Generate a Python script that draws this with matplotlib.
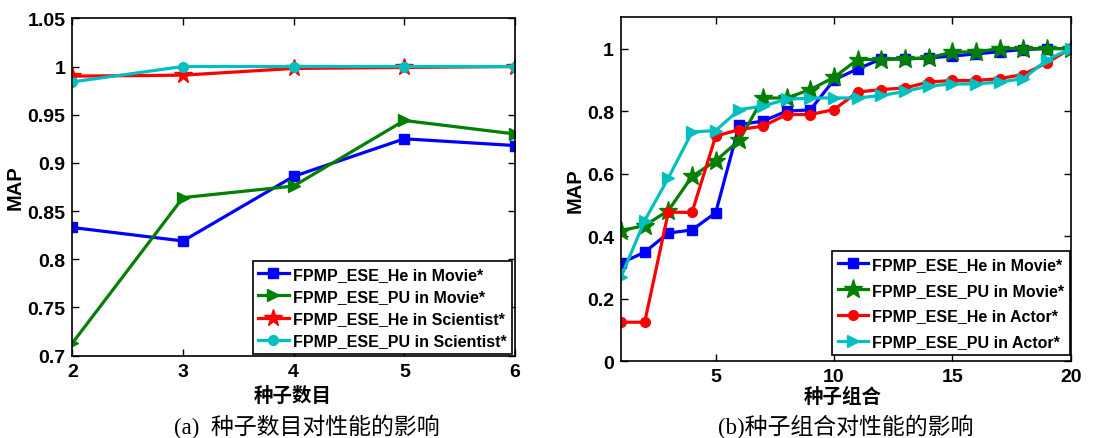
import matplotlib
matplotlib.use("Agg")
import matplotlib.pyplot as plt

plt.rcParams['font.family'] = ['Liberation Sans', 'Noto Sans CJK SC', 'DejaVu Sans']

# ---- data (a) ----
seeds_a = [2, 3, 4, 5, 6]
he_movie_a = [0.833, 0.819, 0.886, 0.925, 0.918]
pu_movie_a = [0.713, 0.864, 0.876, 0.944, 0.930]
he_sci_a = [0.990, 0.991, 0.998, 0.999, 1.000]
pu_sci_a = [0.984, 1.000, 1.000, 1.000, 1.000]
labels_a = ['FPMP_ESE_He in Movie*', 'FPMP_ESE_PU in Movie*',
            'FPMP_ESE_He in Scientist*', 'FPMP_ESE_PU in Scientist*']
yticks_a = [0.7, 0.75, 0.8, 0.85, 0.9, 0.95, 1.0, 1.05]
yticklabels_a = ['0.7', '0.75', '0.8', '0.85', '0.9', '0.95', '1', '1.05']

# ---- data (b) ----
combos_b = list(range(1, 21))
he_movie_b = [0.314, 0.349, 0.410, 0.420, 0.475, 0.757, 0.768, 0.800, 0.804, 0.900,
              0.935, 0.967, 0.967, 0.970, 0.976, 0.983, 0.990, 0.997, 1.000, 1.000]
pu_movie_b = [0.418, 0.434, 0.482, 0.591, 0.641, 0.707, 0.842, 0.842, 0.869, 0.908,
              0.965, 0.965, 0.967, 0.970, 0.989, 0.989, 1.000, 1.000, 1.000, 1.000]
he_actor_b = [0.125, 0.125, 0.477, 0.476, 0.720, 0.741, 0.752, 0.789, 0.789, 0.805,
              0.861, 0.869, 0.874, 0.893, 0.898, 0.898, 0.904, 0.917, 0.955, 1.000]
pu_actor_b = [0.269, 0.450, 0.586, 0.733, 0.738, 0.805, 0.816, 0.838, 0.842, 0.842,
              0.842, 0.850, 0.863, 0.880, 0.887, 0.887, 0.893, 0.904, 0.964, 1.000]
labels_b = ['FPMP_ESE_He in Movie*', 'FPMP_ESE_PU in Movie*',
            'FPMP_ESE_He in Actor*', 'FPMP_ESE_PU in Actor*']
yticks_b = [0, 0.2, 0.4, 0.6, 0.8, 1.0]
yticklabels_b = ['0', '0.2', '0.4', '0.6', '0.8', '1']
xticks_b = [5, 10, 15, 20]

BLUE = (0, 0, 1)
GREEN = (0, 0.5, 0)
RED = (1, 0, 0)
CYAN = (0, 0.75, 0.75)

W, H = 1110, 439
fig = plt.figure(figsize=(W / 100, H / 100), dpi=100)

def fx(px):
    return px / W

def fy(py):
    return 1 - py / H

ax1 = fig.add_axes([fx(72.3), fy(356.7), fx(515 - 72.3), (356.7 - 19.3) / H])
ax2 = fig.add_axes([fx(621), fy(362.3), fx(1070.7 - 621), (362.3 - 18.3) / H])

lw = 2.3
ax1.plot(seeds_a, he_movie_a, color=BLUE, lw=lw, marker='s', ms=7, label=labels_a[0])
ax1.plot(seeds_a, pu_movie_a, color=GREEN, lw=lw, marker='>', ms=9, label=labels_a[1])
ax1.plot(seeds_a, he_sci_a, color=RED, lw=lw, marker='*', ms=13, label=labels_a[2])
ax1.plot(seeds_a, pu_sci_a, color=CYAN, lw=lw, marker='o', ms=7, label=labels_a[3])

ax2.plot(combos_b, he_movie_b, color=BLUE, lw=lw, marker='s', ms=7, label=labels_b[0])
ax2.plot(combos_b, pu_movie_b, color=GREEN, lw=lw, marker='*', ms=14, label=labels_b[1])
ax2.plot(combos_b, he_actor_b, color=RED, lw=lw, marker='o', ms=7, label=labels_b[2])
ax2.plot(combos_b, pu_actor_b, color=CYAN, lw=lw, marker='>', ms=9, label=labels_b[3])

ax1.set_xlim(2, 6)
ax1.set_ylim(0.7, 1.05)
ax1.set_xticks(seeds_a)
ax1.set_yticks(yticks_a)
ax1.set_yticklabels(yticklabels_a)

ax2.set_xlim(1, 20)
ax2.set_ylim(0, 1.1)
ax2.set_xticks(xticks_b)
ax2.set_yticks(yticks_b)
ax2.set_yticklabels(yticklabels_b)

for ax in (ax1, ax2):
    ax.tick_params(direction='in', top=True, right=True, length=5, width=1,
                   labelsize=14, pad=5)
    for lab in ax.get_xticklabels() + ax.get_yticklabels():
        lab.set_fontweight('bold')
    for s in ax.spines.values():
        s.set_linewidth(1.2)
    ax.set_ylabel('MAP', fontsize=14.5, fontweight='bold')

ax1.yaxis.set_label_coords(fx(25 - 72.3) / fx(515 - 72.3), 0.5)
ax2.yaxis.set_label_coords(fx(585 - 621) / fx(1070.7 - 621), 0.5)

fig.text(fx(293), fy(396), '种子数目', ha='center', va='center', fontsize=14,
         fontweight='bold', family=['Noto Sans CJK SC'])
fig.text(fx(843), fy(397), '种子组合', ha='center', va='center', fontsize=14,
         fontweight='bold', family=['Noto Sans CJK SC'])

fig.text(fx(307), fy(427), '(a)  种子数目对性能的影响', ha='center', va='center',
         fontsize=16.5, family=['Liberation Serif', 'Noto Sans CJK SC'])
fig.text(fx(846), fy(427), '(b)种子组合对性能的影响', ha='center', va='center',
         fontsize=16.5, family=['Liberation Serif', 'Noto Sans CJK SC'])

leg_kw = dict(fancybox=False, edgecolor='black', framealpha=1, borderaxespad=0,
              handlelength=1.9, handletextpad=0.25, borderpad=0.35,
              prop={'weight': 'bold', 'size': 11.5}, bbox_transform=fig.transFigure,
              loc='lower right')
lg1 = ax1.legend(bbox_to_anchor=(fx(512), fy(355)), labelspacing=0.45, **leg_kw)
lg2 = ax2.legend(bbox_to_anchor=(fx(1070), fy(356)), labelspacing=0.68, **leg_kw)
for lg in (lg1, lg2):
    lg.get_frame().set_linewidth(1.2)

fig.savefig('out.png', dpi=100)
